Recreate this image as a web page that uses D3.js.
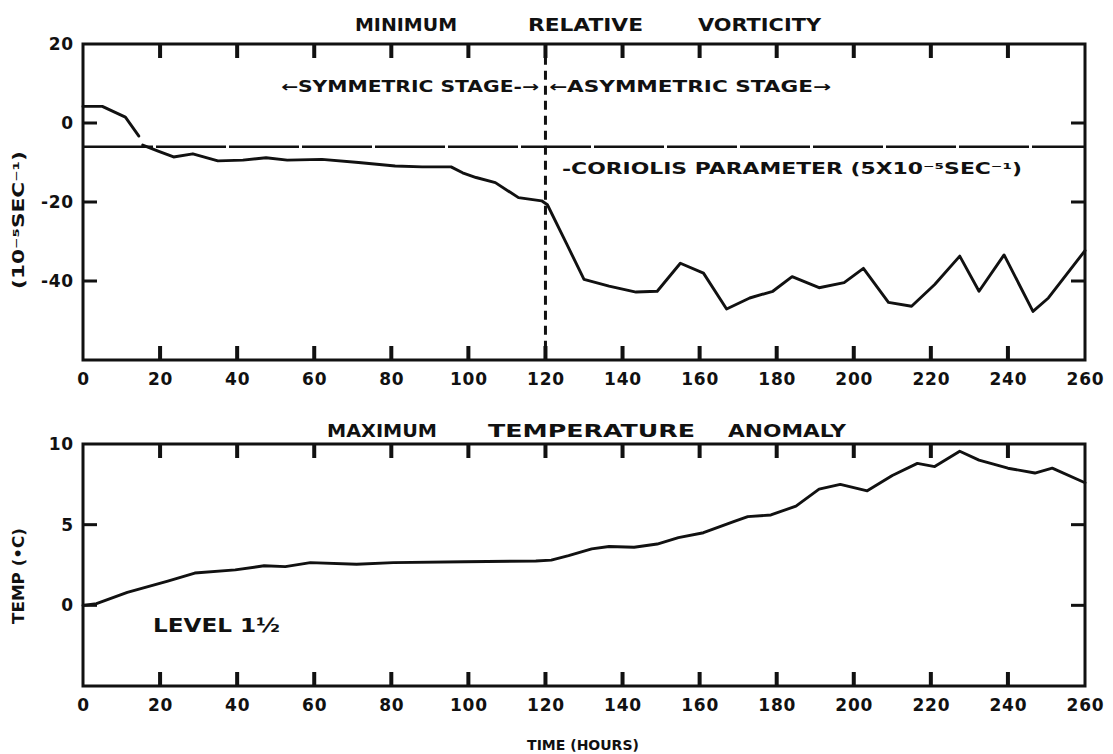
<!DOCTYPE html>
<html><head><meta charset="utf-8">
<script src="https://cdn.jsdelivr.net/npm/d3@7"></script>
<style>
body{margin:0;background:#fff}
svg{display:block}
text{font-family:"DejaVu Sans",sans-serif;font-weight:bold;fill:#111}
</style>
</head><body>
<svg id="c" width="1113" height="754"></svg>
<script>
// ---- data ----
const xTickValues = [0,20,40,60,80,100,120,140,160,180,200,220,240,260];
const vortTickValues = [20,0,-20,-40];
const tempTickValues = [10,5,0];

// minimum relative vorticity (10^-5 s^-1), early segment and main segment
const vortHoursA = [0,5,11,14.5];
const vortA = [4.2,4.2,1.5,-3.3];
const vortHoursB = [15.5,19.5,23.5,28.5,35,41.5,47.5,53,62,71.5,81,88,95.5,98.5,102,107,113,119,120.5,125.5,130,136.5,143.5,149,155,161,167,173,179,184,191,197.5,202.5,209,215,221,227.5,232.5,239,246.5,250.5,260];
const vortB = [-5.6,-7.1,-8.6,-7.8,-9.6,-9.4,-8.8,-9.4,-9.2,-10,-10.9,-11.1,-11.1,-12.6,-13.8,-15.1,-18.9,-19.7,-20.7,-30.6,-39.6,-41.3,-42.8,-42.6,-35.5,-38,-47.1,-44.3,-42.6,-38.9,-41.7,-40.4,-36.8,-45.4,-46.4,-40.9,-33.7,-42.6,-33.4,-47.7,-44.3,-32.3];
const coriolisValue = -6;
const stageBoundary = 120;

// maximum temperature anomaly (deg C)
const tempHours = [0,3.5,11.5,22,29,39.5,47,52.5,59,71,80.5,99,117.5,121.5,126,132,136.5,143,149,154.5,161,169,172.5,178.5,185,191,196.5,203.5,210,216.5,221,227.5,232.5,240,247,251.5,260];
const temp = [0,0.1,0.8,1.5,2.0,2.2,2.45,2.4,2.65,2.55,2.65,2.7,2.75,2.8,3.08,3.5,3.65,3.6,3.8,4.2,4.5,5.2,5.5,5.6,6.15,7.2,7.5,7.1,8.05,8.8,8.6,9.55,9.0,8.5,8.2,8.5,7.6];

// ---- layout ----
const svg = d3.select("#c");
const L = 83, R = 1085;
const x = d3.scaleLinear().domain([0,260]).range([L,R]);
const yV = d3.scaleLinear().domain([-60,20]).range([360,44]);
const yT = d3.scaleLinear().domain([-5,10]).range([686,444]);
const fmt = d => String(d);
const INK = "#111";
const VT = 14;   // vertical tick length
const HT = 14;   // horizontal tick length

function panel(y, yTicksLeft, yTicksRight, yTickLabels) {
  const [b, t] = y.range();
  const g = svg.append("g");
  g.append("rect").attr("x",L).attr("y",t).attr("width",R-L).attr("height",b-t)
    .attr("fill","none").attr("stroke",INK).attr("stroke-width",3);
  const inner = xTickValues.slice(1,-1);
  g.selectAll("rect.tb").data(inner).join("rect").attr("class","tb")
    .attr("x",d=>x(d)-2).attr("width",4).attr("y",b-VT).attr("height",VT)
    .attr("fill",INK);
  g.selectAll("rect.tt").data(inner).join("rect").attr("class","tt")
    .attr("x",d=>x(d)-2).attr("width",4).attr("y",t).attr("height",VT)
    .attr("fill",INK);
  g.selectAll("rect.tl").data(yTicksLeft).join("rect").attr("class","tl")
    .attr("x",L).attr("width",HT).attr("y",d=>y(d)-1.5).attr("height",3).attr("fill",INK);
  g.selectAll("rect.tr").data(yTicksRight).join("rect").attr("class","tr")
    .attr("x",R-HT).attr("width",HT).attr("y",d=>y(d)-1.5).attr("height",3).attr("fill",INK);
  const ab = g.append("g").attr("transform",`translate(0,${b})`)
    .call(d3.axisBottom(x).tickValues(xTickValues).tickSize(0).tickPadding(13).tickFormat(fmt));
  const al = g.append("g").attr("transform",`translate(${L},0)`)
    .call(d3.axisLeft(y).tickValues(yTickLabels).tickSize(0).tickPadding(9).tickFormat(fmt));
  [ab,al].forEach(a => {
    a.select(".domain").remove();
    a.selectAll(".tick line").remove();
    a.selectAll("text").attr("font-size",17).attr("letter-spacing",0.8)
      .attr("font-family","DejaVu Sans, sans-serif").attr("font-weight","bold").attr("fill",INK);
  });
  return g;
}

panel(yV, [0,-20,-40], [0,-20,-40], vortTickValues);
panel(yT, [5,0], [5,0], tempTickValues);

// Coriolis parameter line
svg.append("line").attr("x1",L).attr("x2",R).attr("y1",yV(coriolisValue)).attr("y2",yV(coriolisValue))
  .attr("stroke",INK).attr("stroke-width",2.6).attr("stroke-dasharray","70,3");

// stage boundary dashed line
svg.append("line").attr("x1",x(stageBoundary)).attr("x2",x(stageBoundary))
  .attr("y1",yV(17)).attr("y2",yV(-60))
  .attr("stroke",INK).attr("stroke-width",3).attr("stroke-dasharray","9,6");

// curves
const lineV = d3.line().x(d => x(d[0])).y(d => yV(d[1]));
const lineT = d3.line().x(d => x(d[0])).y(d => yT(d[1]));
const curveStyle = sel => sel.attr("fill","none").attr("stroke",INK).attr("stroke-width",2.9)
  .attr("stroke-linejoin","round").attr("stroke-linecap","round");
svg.append("path").attr("d", lineV(d3.zip(vortHoursA, vortA))).call(curveStyle);
svg.append("path").attr("d", lineV(d3.zip(vortHoursB, vortB))).call(curveStyle);
svg.append("path").attr("d", lineT(d3.zip(tempHours, temp))).call(curveStyle);

// titles (word starts and widths)
const title = (words, starts, widths, yy) => words.forEach((w,i) =>
  svg.append("text").attr("x",starts[i]).attr("y",yy).attr("font-size",18)
    .attr("textLength",widths[i]).attr("lengthAdjust","spacingAndGlyphs").text(w));
title(["MINIMUM","RELATIVE","VORTICITY"], [355,528,698], [102,115,123], 31);
title(["MAXIMUM","TEMPERATURE","ANOMALY"], [327,488,728], [110,207,118], 437);

// annotations
svg.append("text").attr("x",281).attr("y",92).attr("font-size",15).attr("textLength",258)
  .attr("lengthAdjust","spacingAndGlyphs").text("←SYMMETRIC STAGE-→");
svg.append("text").attr("x",549).attr("y",92).attr("font-size",15).attr("textLength",282)
  .attr("lengthAdjust","spacingAndGlyphs").text("←ASYMMETRIC STAGE→");
svg.append("text").attr("x",562).attr("y",174).attr("font-size",16).attr("textLength",460)
  .attr("lengthAdjust","spacingAndGlyphs").text("-CORIOLIS PARAMETER (5X10⁻⁵SEC⁻¹)");
svg.append("text").attr("x",153).attr("y",632).attr("font-size",20).attr("font-weight","normal")
  .attr("font-family","Liberation Sans, sans-serif").attr("textLength",127)
  .attr("lengthAdjust","spacingAndGlyphs").text("LEVEL 1½");

// axis titles
svg.append("text").attr("transform","translate(24,220) rotate(-90)").attr("text-anchor","middle")
  .attr("font-size",16).attr("textLength",138).attr("lengthAdjust","spacingAndGlyphs").text("(10⁻⁵SEC⁻¹)");
svg.append("text").attr("transform","translate(24,576) rotate(-90)").attr("text-anchor","middle")
  .attr("font-size",15).attr("textLength",96).attr("lengthAdjust","spacingAndGlyphs").text("TEMP (•C)");
svg.append("text").attr("x",583).attr("y",750).attr("text-anchor","middle")
  .attr("font-size",14).text("TIME (HOURS)");
</script>
</body></html>
